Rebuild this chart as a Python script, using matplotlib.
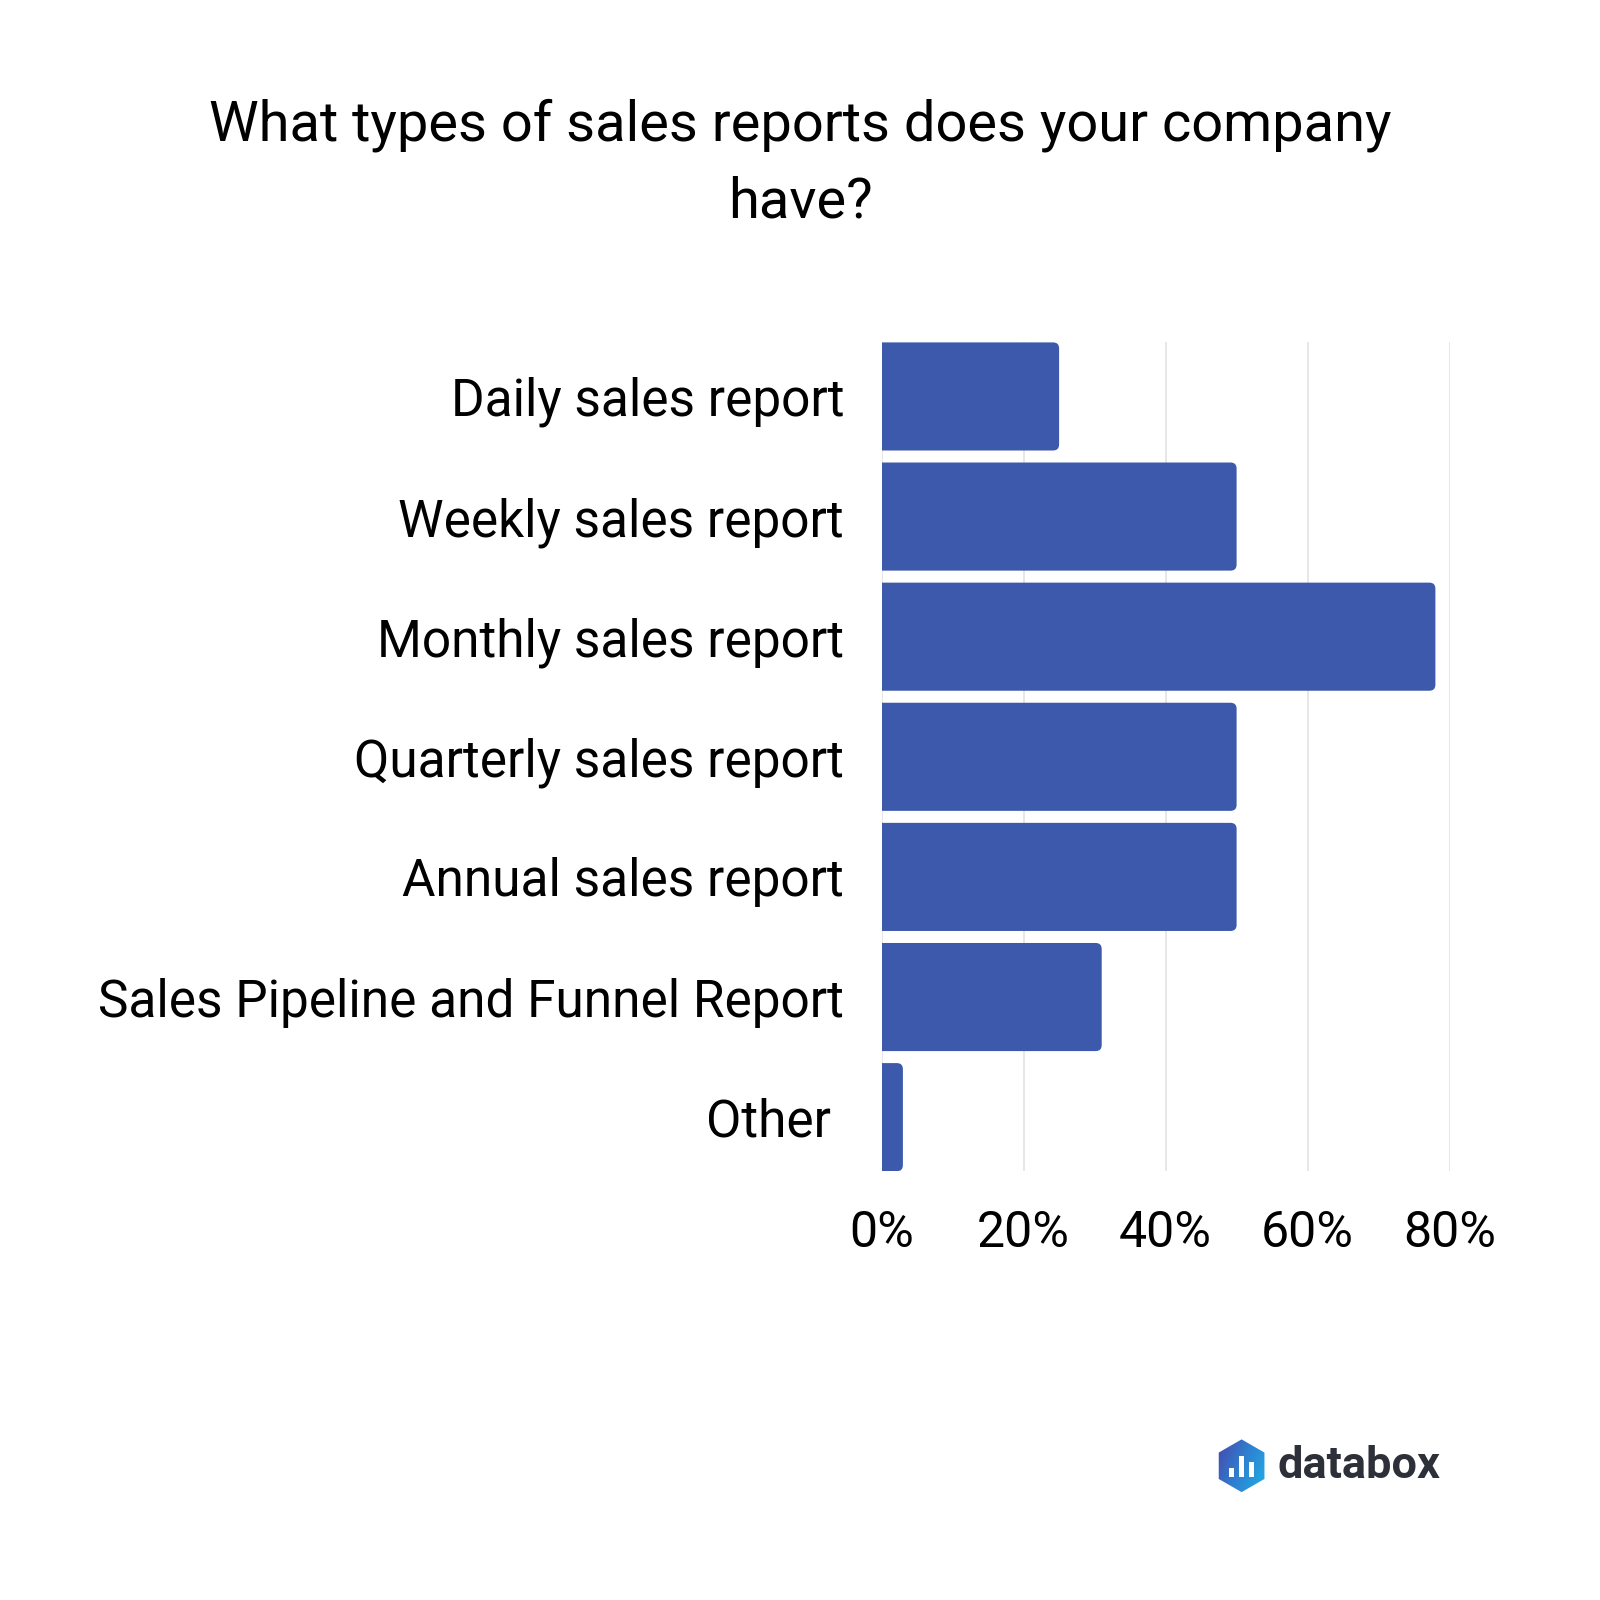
import numpy as np
import matplotlib.pyplot as plt
from matplotlib.patches import PathPatch, Rectangle, RegularPolygon
from matplotlib.path import Path
from matplotlib.colors import LinearSegmentedColormap

plt.rcParams['font.family'] = ['Roboto', 'DejaVu Sans']

categories = ['Daily sales report', 'Weekly sales report', 'Monthly sales report',
              'Quarterly sales report', 'Annual sales report',
              'Sales Pipeline and Funnel Report', 'Other ']
values = [25, 50, 78, 50, 50, 31, 3]
ticks = [0, 20, 40, 60, 80]
tick_labels = ['0%', '20%', '40%', '60%', '80%']

bar_color = '#3d59ab'


def right_rounded(x0, y0, w, hh, rx, ry):
    # bar with square left side and rounded right corners
    rx = min(rx, w / 2)
    verts = [(x0, y0), (x0 + w - rx, y0), (x0 + w, y0), (x0 + w, y0 + ry),
             (x0 + w, y0 + hh - ry), (x0 + w, y0 + hh), (x0 + w - rx, y0 + hh),
             (x0, y0 + hh), (x0, y0)]
    codes = [Path.MOVETO, Path.LINETO, Path.CURVE3, Path.CURVE3,
             Path.LINETO, Path.CURVE3, Path.CURVE3, Path.LINETO, Path.CLOSEPOLY]
    return Path(verts, codes)


fig = plt.figure(figsize=(16, 16), dpi=100)
ax = fig.add_axes([0.551, 0.268, 0.355, 0.518])

h = 0.9
bars = ax.barh(range(len(values)), values, height=h, color='none', zorder=3)
for b in bars:
    ax.add_patch(PathPatch(right_rounded(b.get_x(), b.get_y(), b.get_width(), b.get_height(),
                                         0.85, 0.05),
                           fc=bar_color, ec='none', zorder=3))

ax.set_xlim(0, 80)
ax.set_ylim(len(values) - 0.55, -0.45)
ax.set_xticks(ticks)
ax.set_xticklabels(tick_labels, fontsize=36)
ax.set_yticks(range(len(categories)))
ax.set_yticklabels(categories, fontsize=37)
ax.tick_params(length=0, pad=27, axis='y')
ax.tick_params(length=0, pad=27, axis='x')
ax.grid(axis='x', color='#e3e3e3', linewidth=1.2, zorder=0)
for s in ax.spines.values():
    s.set_visible(False)

fig.text(0.5, 0.8977, 'What types of sales reports does your company\nhave?',
         ha='center', va='center', fontsize=40.3, linespacing=1.55)

# databox logo
lax = fig.add_axes([0.759, 0.0669, 0.034, 0.034])
lax.set_xlim(-1, 1)
lax.set_ylim(-1, 1)
lax.axis('off')
hexp = RegularPolygon((0, 0), 6, radius=0.97, orientation=0, fc='none', ec='none')
lax.add_patch(hexp)
gx, gy = np.meshgrid(np.linspace(0, 1, 100), np.linspace(0, 1, 100))
grad = gx * 0.7 + gy * 0.3
img = lax.imshow(grad, extent=(-1, 1, -1, 1),
                 cmap=LinearSegmentedColormap.from_list('db', ['#4b3fa6', '#2f7fd0', '#1fb5e6']),
                 origin='upper', zorder=1)
img.set_clip_path(hexp)
for bx, bh in zip([-0.36, 0.0, 0.36], [0.32, 0.78, 0.55]):
    lax.add_patch(Rectangle((bx - 0.09, -0.42), 0.18, bh, fc='white', ec='none', zorder=2))
fig.text(0.7985, 0.0835, 'databox', fontsize=32.5, fontweight='bold', color='#2d3038',
         ha='left', va='center')

fig.savefig('out.png', dpi=100, facecolor='white')
